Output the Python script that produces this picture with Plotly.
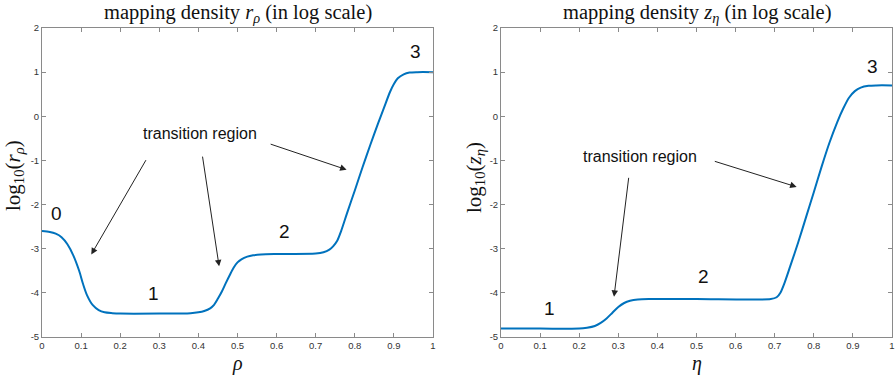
import plotly.graph_objects as go

# ---- data ----
rho = [0, 0.02, 0.035, 0.05, 0.065, 0.08, 0.095, 0.105, 0.115, 0.13, 0.145, 0.16, 0.18, 0.2,
       0.3, 0.38, 0.4, 0.415, 0.43, 0.44, 0.45, 0.46, 0.47, 0.48, 0.49, 0.5, 0.51, 0.525,
       0.54, 0.56, 0.6, 0.7, 0.72, 0.735, 0.745, 0.755, 0.765, 0.78, 0.8, 0.82, 0.84, 0.86,
       0.875, 0.89, 0.9, 0.91, 0.925, 0.94, 0.96, 1.0]
log_r = [-2.60, -2.62, -2.66, -2.74, -2.90, -3.15, -3.50, -3.80, -4.05, -4.28, -4.39, -4.44,
         -4.46, -4.47, -4.47, -4.46, -4.44, -4.41, -4.35, -4.27, -4.13, -3.97, -3.78, -3.60,
         -3.43, -3.31, -3.24, -3.18, -3.15, -3.13, -3.12, -3.11, -3.08, -3.02, -2.94, -2.82,
         -2.60, -2.20, -1.68, -1.15, -0.64, -0.15, 0.20, 0.55, 0.73, 0.86, 0.95, 0.99, 1.0, 1.0]

eta = [0, 0.1, 0.2, 0.22, 0.24, 0.255, 0.27, 0.285, 0.3, 0.315, 0.33, 0.35, 0.38, 0.5, 0.69,
       0.705, 0.715, 0.725, 0.74, 0.76, 0.78, 0.8, 0.82, 0.84, 0.86, 0.875, 0.89, 0.905, 0.92,
       0.94, 0.96, 1.0]
log_z = [-4.81, -4.81, -4.81, -4.79, -4.75, -4.68, -4.58, -4.45, -4.32, -4.23, -4.18, -4.15,
         -4.14, -4.14, -4.14, -4.10, -3.99, -3.78, -3.39, -2.86, -2.29, -1.72, -1.14, -0.60,
         -0.13, 0.17, 0.42, 0.57, 0.65, 0.69, 0.70, 0.70]

x_ticks = [0, 0.1, 0.2, 0.3, 0.4, 0.5, 0.6, 0.7, 0.8, 0.9, 1]
x_labels = ["0", "0.1", "0.2", "0.3", "0.4", "0.5", "0.6", "0.7", "0.8", "0.9", "1"]
y_ticks = [-5, -4, -3, -2, -1, 0, 1, 2]
y_labels = ["-5", "-4", "-3", "-2", "-1", "0", "1", "2"]

# region labels: (text, x, y)
left_regions = [("0", 0.036, -2.2), ("1", 0.285, -4.02), ("2", 0.621, -2.62), ("3", 0.954, 1.47)]
right_regions = [("1", 0.124, -4.36), ("2", 0.519, -3.62), ("3", 0.951, 1.13)]
# arrows: (head x, head y, tail x, tail y)
left_arrows = [(0.126, -3.13, 0.268, -0.96), (0.453, -3.40, 0.410, -0.88),
               (0.779, -1.21, 0.581, -0.62)]
right_arrows = [(0.289, -4.09, 0.327, -1.36), (0.756, -1.60, 0.543, -1.01)]
left_text_pos = (0.404, -0.39)
right_text_pos = (0.355, -0.91)

W, H = 895, 375
BLUE = "#0072BD"
AXC = "#8a8a8a"
SANS = "Liberation Sans, Arial, sans-serif"
SERIF = "Liberation Serif, Times New Roman, serif"

fig = go.Figure()
fig.add_trace(go.Scatter(x=rho, y=log_r, mode="lines", xaxis="x", yaxis="y",
                         line=dict(color=BLUE, width=2, shape="spline", smoothing=0.8),
                         showlegend=False, hoverinfo="skip"))
fig.add_trace(go.Scatter(x=eta, y=log_z, mode="lines", xaxis="x2", yaxis="y2",
                         line=dict(color=BLUE, width=2, shape="spline", smoothing=0.8),
                         showlegend=False, hoverinfo="skip"))

ydom = [1 - 337 / H, 1 - 28 / H]
dom1 = [42 / W, 433 / W]
dom2 = [501 / W, 892 / W]

def xax(dom, anchor):
    return dict(domain=dom, anchor=anchor, range=[0, 1], tickvals=x_ticks, ticktext=x_labels,
                showline=True, linecolor=AXC, linewidth=1, mirror="ticks", ticks="inside",
                ticklen=4, tickcolor=AXC, showgrid=False, zeroline=False,
                tickfont=dict(family=SANS, size=9.5, color="#333333"), automargin=False)

def yax(anchor):
    return dict(domain=ydom, anchor=anchor, range=[-5, 2], tickvals=y_ticks, ticktext=y_labels,
                showline=True, linecolor=AXC, linewidth=1, mirror="ticks", ticks="inside",
                ticklen=4, tickcolor=AXC, showgrid=False, zeroline=False,
                tickfont=dict(family=SANS, size=9.5, color="#333333"), automargin=False)

annotations = []
for (xr, yr, regions, arrows, tpos) in [("x", "y", left_regions, left_arrows, left_text_pos),
                                        ("x2", "y2", right_regions, right_arrows, right_text_pos)]:
    for t, x, y in regions:
        annotations.append(dict(text=t, x=x, y=y, xref=xr, yref=yr, showarrow=False,
                                xanchor="center", yanchor="middle",
                                font=dict(family=SANS, size=19, color="#111111")))
    annotations.append(dict(text="transition region", x=tpos[0], y=tpos[1], xref=xr, yref=yr,
                            showarrow=False, xanchor="center", yanchor="middle",
                            font=dict(family=SANS, size=16, color="#111111")))
    for hx, hy, tx, ty in arrows:
        annotations.append(dict(text="", x=hx, y=hy, xref=xr, yref=yr, ax=tx, ay=ty,
                                axref=xr, ayref=yr, showarrow=True, arrowhead=2,
                                arrowsize=1.3, arrowwidth=1, arrowcolor="#222222"))

def paper_text(text, px, py, size, angle=0):
    return dict(text=text, x=px / W, y=1 - py / H, xref="paper", yref="paper",
                showarrow=False, xanchor="center", yanchor="middle", textangle=angle,
                font=dict(family=SERIF, size=size, color="#111111"))

annotations += [
    paper_text("mapping density <i>r</i><sub><i>ρ</i></sub> (in log scale)", 237.5, 14, 20.5),
    paper_text("mapping density <i>z</i><sub><i>η</i></sub> (in log scale)", 696.5, 14, 20.5),
    paper_text("log<sub>10</sub>(<i>r</i><sub><i>ρ</i></sub>)", 14, 176, 21, -90),
    paper_text("log<sub>10</sub>(<i>z</i><sub><i>η</i></sub>)", 475, 178, 21, -90),
    paper_text("<i>ρ</i>", 237.5, 363, 20),
    paper_text("<i>η</i>", 696.5, 363, 20),
]

fig.update_layout(
    width=W, height=H, margin=dict(l=0, r=0, t=0, b=0),
    paper_bgcolor="white", plot_bgcolor="white",
    xaxis=xax(dom1, "y"), yaxis=yax("x"),
    xaxis2=xax(dom2, "y2"), yaxis2=yax("x2"),
    annotations=annotations, showlegend=False,
)

fig.write_html("out.html", config={"displayModeBar": False})
